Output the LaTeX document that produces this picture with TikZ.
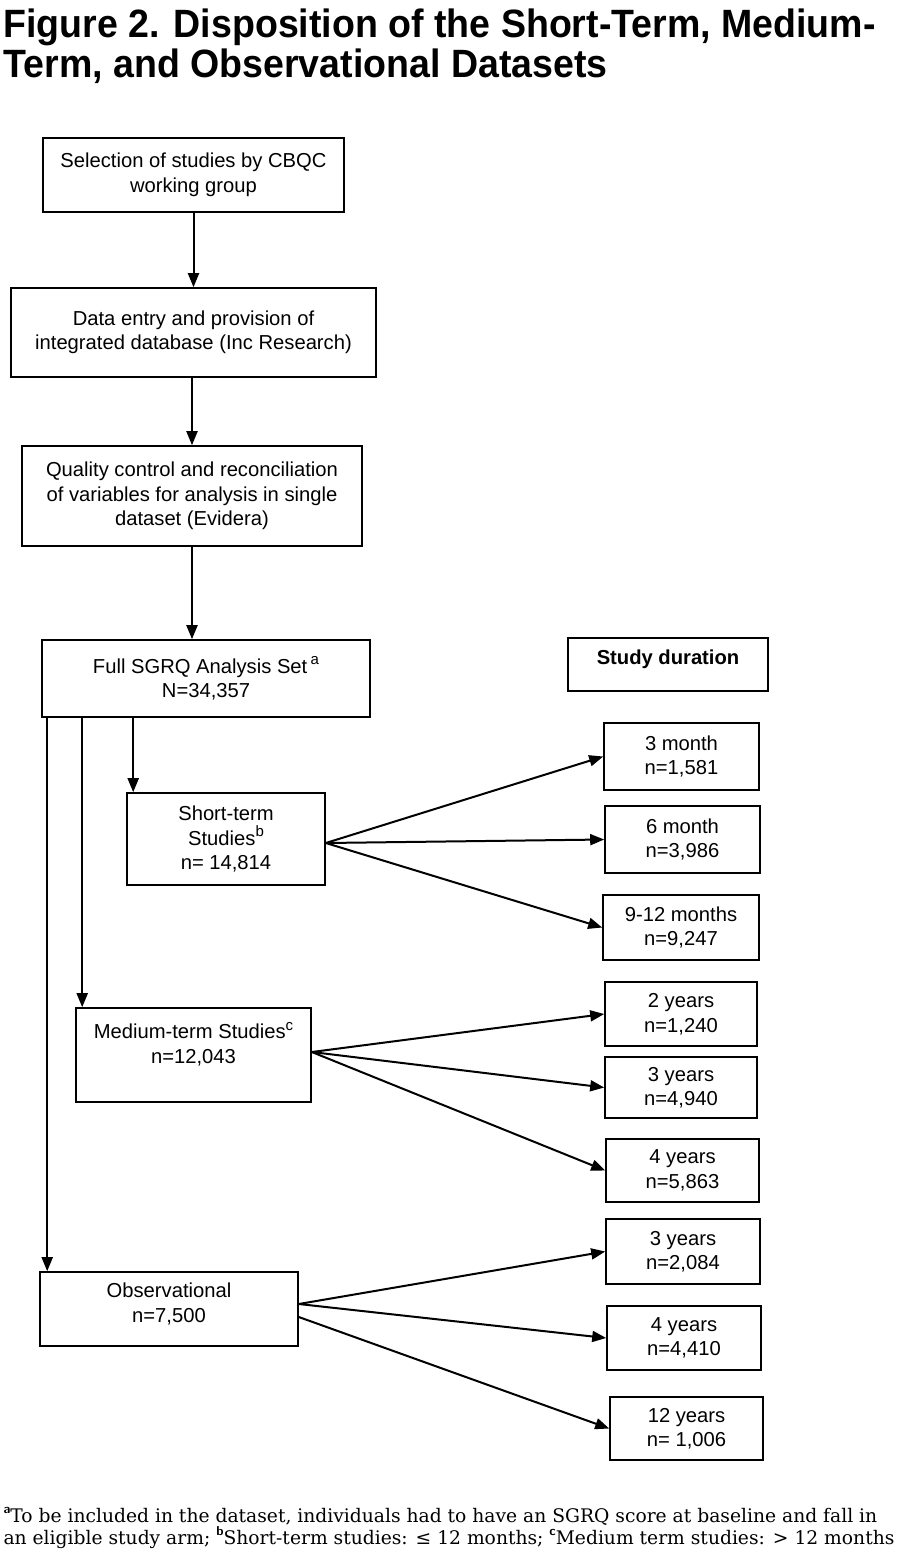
\documentclass[tikz,border=0pt]{standalone}
\usepackage{fontspec}
\setmainfont{Liberation Sans}
\newfontfamily\titlefont[FakeStretch=0.95]{Liberation Sans}
\newfontfamily\notefont{DejaVu Serif}
\usetikzlibrary{arrows.meta}
\newcommand\supmark[1]{\raisebox{0.42em}{\fontsize{15}{15}\selectfont #1}}
\newcommand\notemark[1]{\raisebox{0.45em}{\sffamily\bfseries\fontsize{13}{13}\selectfont #1}}

\begin{document}
\begin{tikzpicture}[x=1pt, y=-1pt, >={Triangle[length=14pt,width=11pt]},
  box/.style={draw, line width=1.6pt, align=center, inner sep=0pt,
    font=\fontsize{20.2}{24.5}\selectfont},
  flow/.style={->, line width=2pt},
  heading/.style={anchor=base west, font=\titlefont\bfseries\fontsize{39.5}{42}\selectfont},
  note/.style={anchor=base west, font=\notefont\fontsize{18.7}{22}\selectfont}]
  \useasboundingbox (0,0) rectangle (900,1552);

  % Titel
  \node[heading] (title1) at (0,38) {Figure 2. Disposition of the Short-Term, Medium-};
  \node[heading] (title2) at (0,78) {Term, and Observational Datasets};

  % Ablauf oben
  \node[box, minimum width=301pt, minimum height=74pt] (select) at (193.5,175)
    {Selection of studies by CBQC\\working group};
  \node[box, minimum width=365pt, minimum height=89pt] (entry) at (193.5,332.5)
    {Data entry and provision of\\integrated database (Inc Research)};
  \node[box, minimum width=340pt, minimum height=100pt] (qc) at (192,496)
    {Quality control and reconciliation\\of variables for analysis in single\\dataset (Evidera)};
  \node[box, minimum width=328pt, minimum height=77pt] (full) at (206,678.5)
    {Full SGRQ Analysis Set\,\supmark{a}\\N=34,357};

  \draw[flow] (select) -- (entry);
  \draw[flow] (qc.north |- entry.south) -- (qc.north);
  \draw[flow] (qc.south) -- (qc.south |- full.north);

  % Studiendauer
  \node[box, minimum width=200pt, minimum height=53pt] (duration) at (668,664.5)
    {\bfseries Study duration\\[-10pt]\mbox{}};

  % Gruppen
  \node[box, minimum width=198pt, minimum height=92pt] (short) at (226,839)
    {Short-term\\Studies\supmark{b}\\n= 14,814};
  \node[box, minimum width=235pt, minimum height=94pt] (medium) at (193.5,1055)
    {Medium-term Studies\supmark{c}\\n=12,043\\\mbox{}};
  \node[box, minimum width=258pt, minimum height=74pt] (obs) at (169,1309)
    {Observational\\n=7,500\\[-12pt]\mbox{}};

  \draw[flow] ([xshift=92pt]full.south west) -- ([xshift=92pt]full.south west |- short.north);
  \draw[flow] ([xshift=41pt]full.south west) -- ([xshift=41pt]full.south west |- medium.north);
  \draw[flow] ([xshift=6pt]full.south west) -- ([xshift=6pt]full.south west |- obs.north);

  % Dauer: kurzfristig
  \node[box, minimum width=155pt, minimum height=67pt] (m3) at (681.5,756.5) {3 month\\n=1,581};
  \node[box, minimum width=155pt, minimum height=67pt] (m6) at (682.5,839.5) {6 month\\n=3,986};
  \node[box, minimum width=156pt, minimum height=65pt] (m912) at (681,927.5) {9-12 months\\n=9,247};

  % Dauer: mittelfristig
  \node[box, minimum width=152pt, minimum height=64pt] (y2) at (681,1014) {2 years\\n=1,240};
  \node[box, minimum width=152pt, minimum height=61pt] (y3) at (681,1087.5) {3 years\\n=4,940};
  \node[box, minimum width=153pt, minimum height=63pt] (y4) at (682.5,1170.5) {4 years\\n=5,863};

  % Dauer: Beobachtung
  \node[box, minimum width=154pt, minimum height=65pt] (o3) at (683,1251.5) {3 years\\n=2,084};
  \node[box, minimum width=154pt, minimum height=64pt] (o4) at (684,1338) {4 years\\n=4,410};
  \node[box, minimum width=153pt, minimum height=63pt] (o12) at (686.5,1428.5) {12 years\\n= 1,006};

  \draw[flow] ([yshift=-4pt]short.east) -- (m3.west);
  \draw[flow] ([yshift=-4pt]short.east) -- (m6.west);
  \draw[flow] ([yshift=-4pt]short.east) -- (m912.west);

  \draw[flow] ([yshift=3pt]medium.east) -- (y2.west);
  \draw[flow] ([yshift=3pt]medium.east) -- (y3.west);
  \draw[flow] ([yshift=3pt]medium.east) -- (y4.west);

  \draw[flow] ([yshift=5pt]obs.east) -- (o3.west);
  \draw[flow] ([yshift=5pt]obs.east) -- (o4.west);
  \draw[flow] ([yshift=-8pt]obs.east) -- (o12.west);

  % Fussnote
  \node[note] (note1) at (0,1522)
    {\notemark{a}To be included in the dataset, individuals had to have an SGRQ score at baseline and fall in};
  \node[note] (note2) at (0,1544)
    {an eligible study arm; \notemark{b}Short-term studies: ≤ 12 months; \notemark{c}Medium term studies: > 12 months};
\end{tikzpicture}
\end{document}
